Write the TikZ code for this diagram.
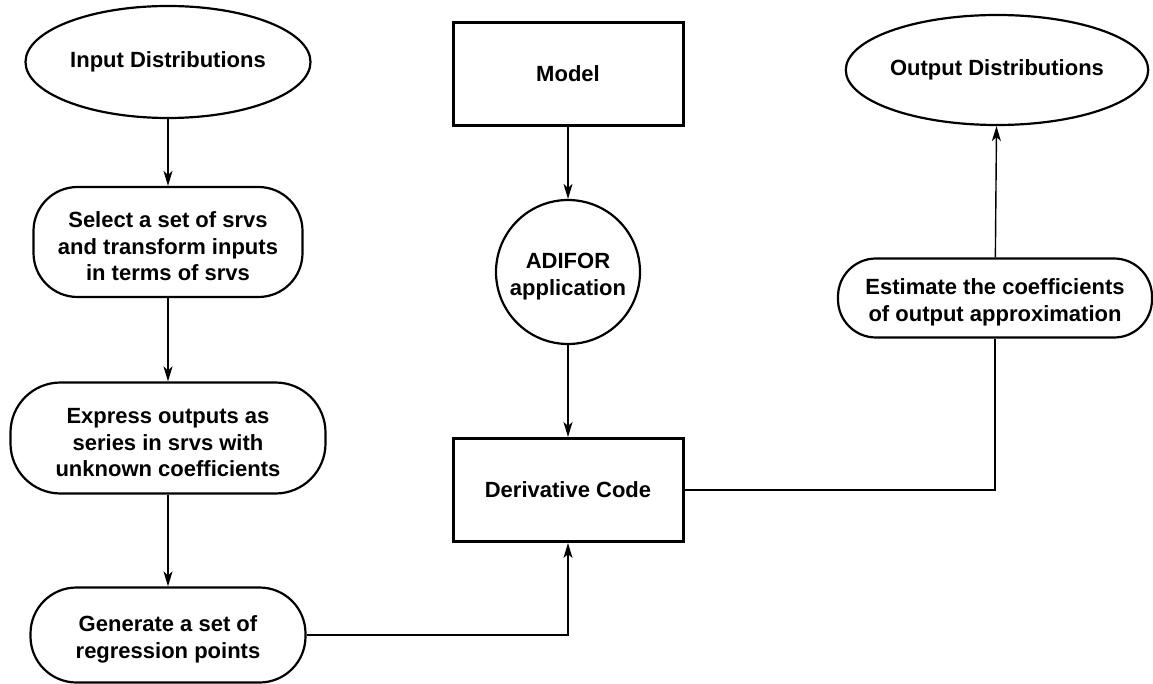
\documentclass[tikz,border=0pt]{standalone}
\usepackage{fontspec}
\setmainfont{Liberation Sans}
\usetikzlibrary{shapes.geometric,arrows.meta}
\newcommand\dnstrut{\rule{0pt}{25pt}}
\begin{document}
\begin{tikzpicture}[x=1pt,y=-1pt,
  txt/.style={font=\fontsize{22}{26.5}\selectfont\bfseries, align=center, inner sep=0pt},
  oval/.style={txt, ellipse, draw, line width=2.2pt},
  rbox/.style={txt, draw, line width=2.2pt, rectangle, rounded corners=#1},
  sbox/.style={txt, draw, line width=3pt, rectangle},
  circ/.style={txt, circle, draw, line width=2.2pt},
  arr/.style={line width=1.4pt, -{Stealth[length=15pt,width=9pt,inset=4pt]}},
  ln/.style={line width=1.4pt}]
\useasboundingbox (0,0) rectangle (1153,684);
\node[oval, minimum width=285pt, minimum height=112pt] (in) at (168,62) {Input Distributions};
\node[rbox=44pt, minimum width=269pt, minimum height=110pt] (sel) at (168,242) {\dnstrut Select a set of srvs\\and transform inputs\\in terms of srvs};
\node[rbox=50pt, minimum width=315pt, minimum height=111pt] (exp) at (168,438) {\dnstrut Express outputs as\\series in srvs with\\unknown coefficients};
\node[rbox=46pt, minimum width=275pt, minimum height=95pt] (gen) at (168,635) {\dnstrut Generate a set of\\regression points};
\node[sbox, minimum width=230pt, minimum height=103pt] (mod) at (568,74) {Model};
\node[circ, minimum size=144pt] (adi) at (568,272) {\dnstrut ADIFOR\\application};
\node[sbox, minimum width=230pt, minimum height=103pt] (der) at (568,490) {Derivative Code};
\node[rbox=38pt, minimum width=314pt, minimum height=79pt] (est) at (995,298) {\dnstrut Estimate the coefficients\\of output approximation};
\node[oval, minimum width=283pt, minimum height=110pt] (out) at (997,70) {Output Distributions};
\draw[arr] (in) -- (sel);
\draw[arr] (sel) -- (exp);
\draw[arr] (exp) -- (gen);
\draw[arr] (mod) -- (adi);
\draw[arr] (adi) -- (der);
\draw[arr] (gen.east) -| (der.south);
\draw[ln] (der.east) -| (est.south);
\draw[arr] (est) -- (out);
\end{tikzpicture}
\end{document}
